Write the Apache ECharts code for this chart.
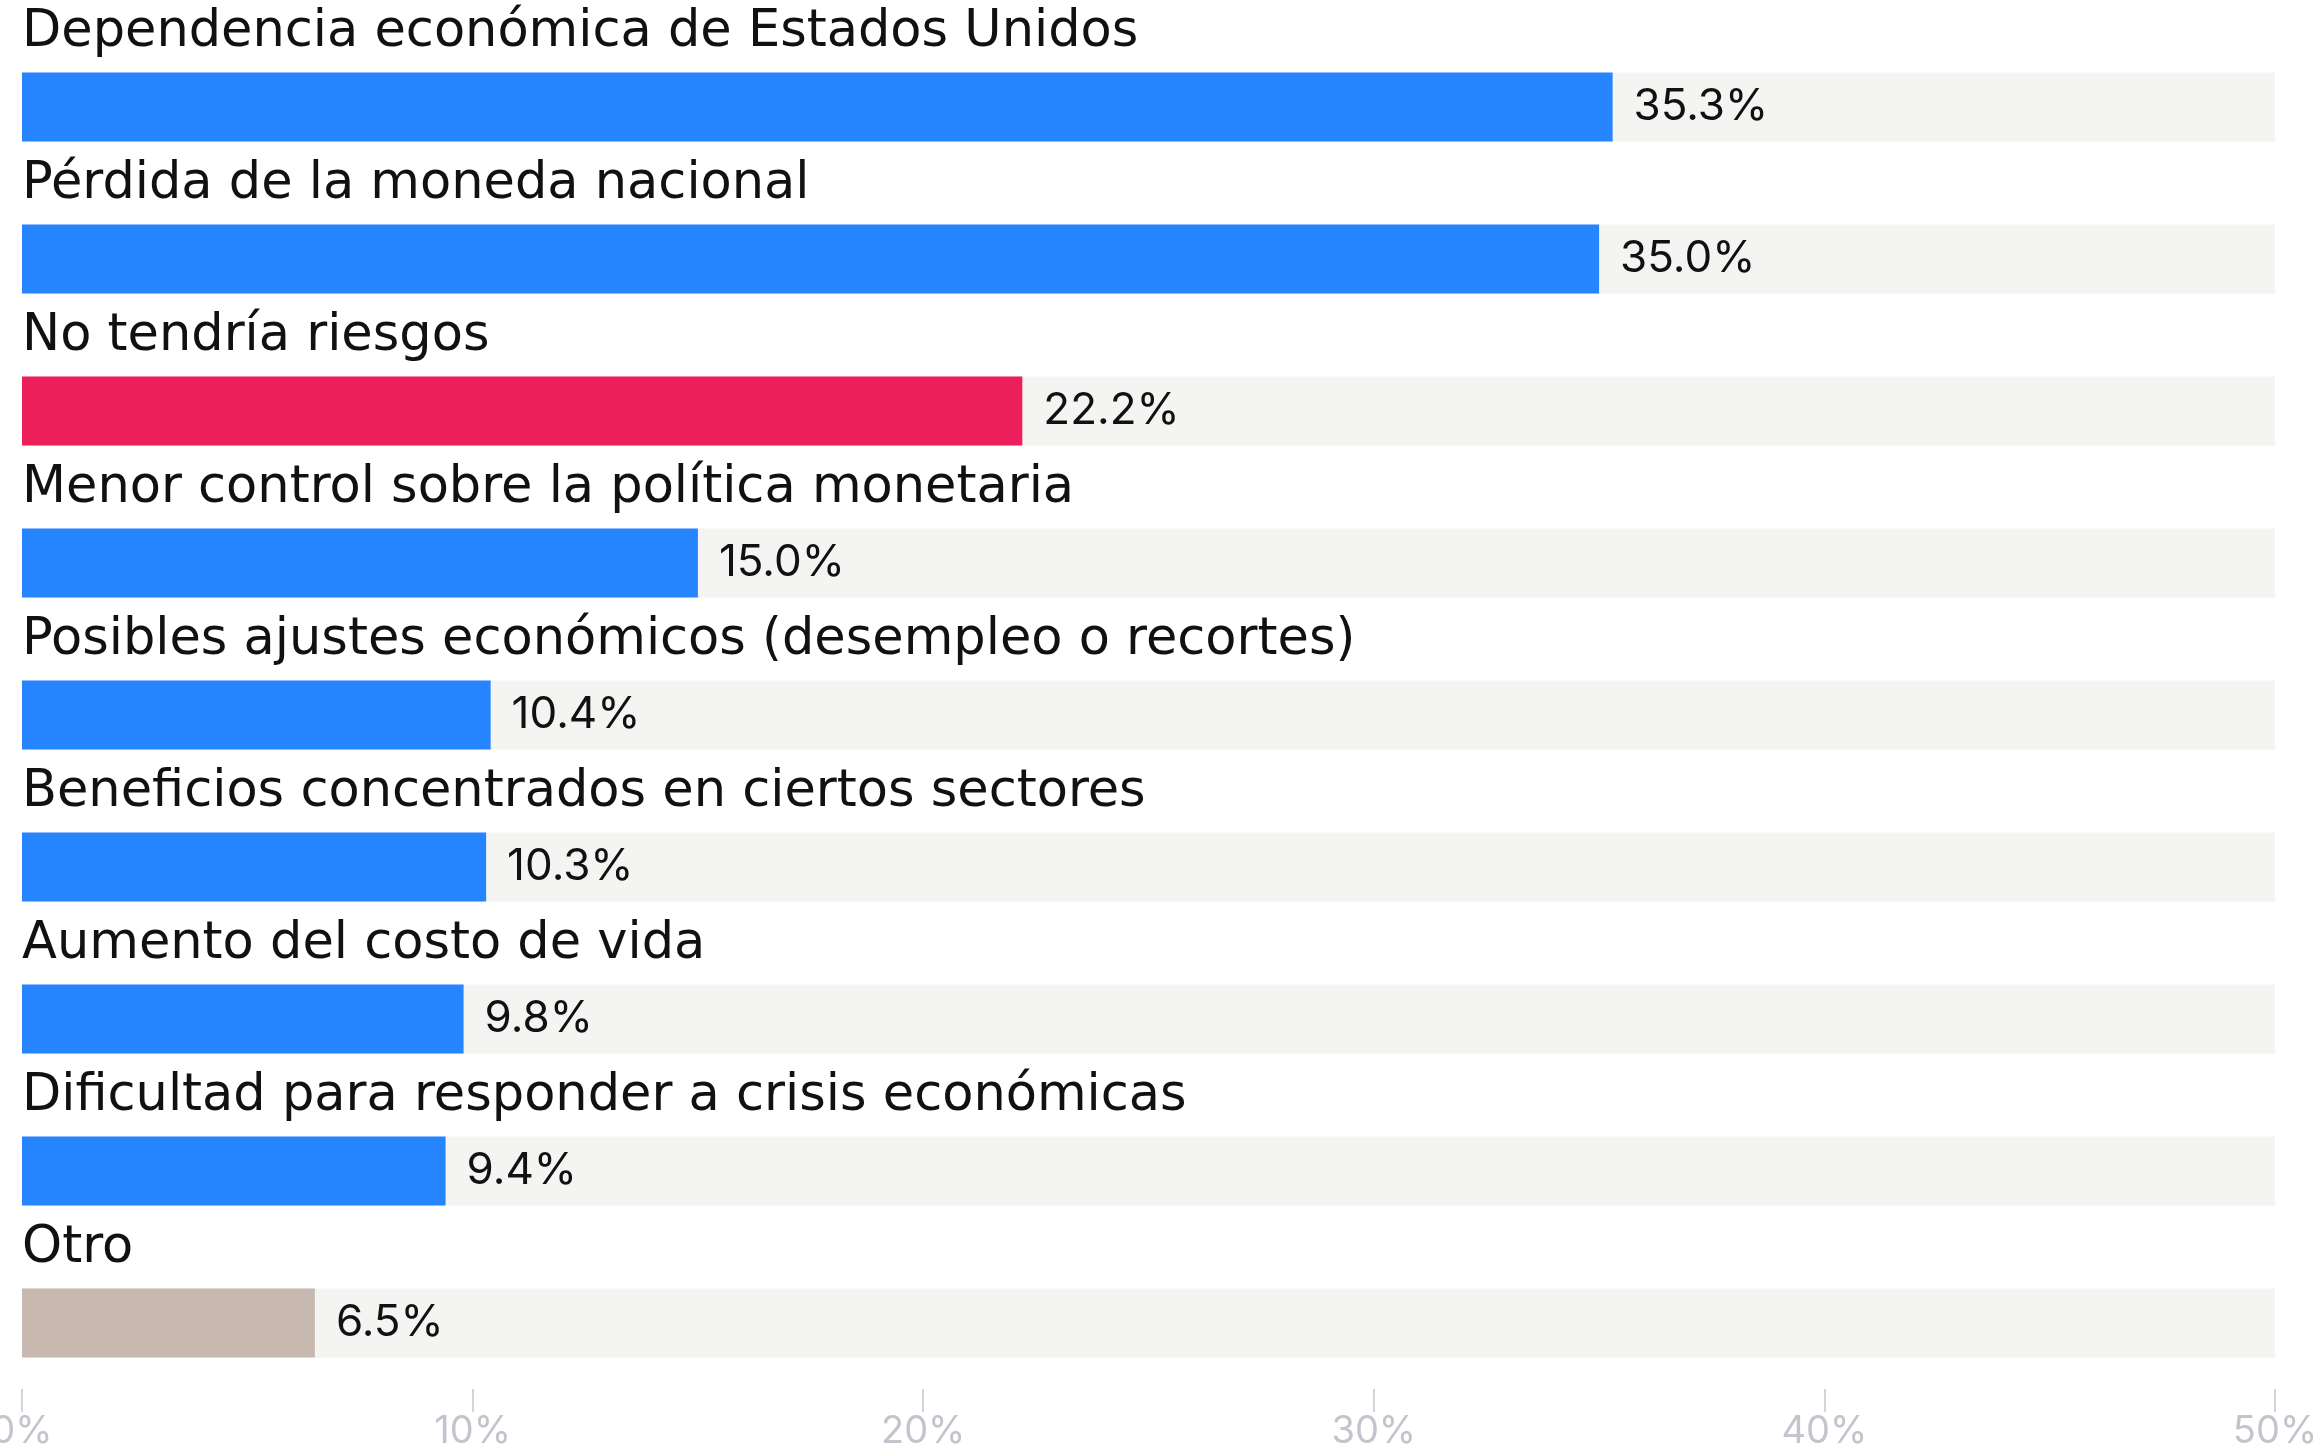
<!DOCTYPE html>
<html>
<head>
<meta charset="utf-8">
<script src="https://cdn.jsdelivr.net/npm/echarts@6/dist/echarts.min.js"></script>
<style>
  html, body { margin: 0; padding: 0; background: #fff; }
  #chart { width: 2316px; height: 1450px; }
</style>
</head>
<body>
<div id="chart"></div>
<script>
// datos
var categories = [
  'Dependencia económica de Estados Unidos',
  'Pérdida de la moneda nacional',
  'No tendría riesgos',
  'Menor control sobre la política monetaria',
  'Posibles ajustes económicos (desempleo o recortes)',
  'Beneficios concentrados en ciertos sectores',
  'Aumento del costo de vida',
  'Dificultad para responder a crisis económicas',
  'Otro'
];
var values = [35.3, 35.0, 22.2, 15.0, 10.4, 10.3, 9.8, 9.4, 6.5];
var xTicks = [0, 10, 20, 30, 40, 50];

// colores por barra
var barColors = ['#2684ff', '#2684ff', '#ec1f5b', '#2684ff', '#2684ff', '#2684ff', '#2684ff', '#2684ff', '#c7b9b0'];

var chart = echarts.init(document.getElementById('chart'));
var font = 'Inter, "Noto Sans", sans-serif';

var option = {
  backgroundColor: '#ffffff',
  animation: false,
  grid: { left: 22, right: 41, top: 31, bottom: 51, containLabel: false, outerBoundsMode: 'none' },
  xAxis: {
    type: 'value',
    min: xTicks[0],
    max: xTicks[xTicks.length - 1],
    interval: 10,
    offset: -10,
    axisLine: { show: false },
    axisTick: { show: true, length: 23, lineStyle: { color: '#d3d4da', width: 2 } },
    splitLine: { show: false },
    axisLabel: {
      formatter: '{value}%',
      color: '#c3c5cd',
      fontFamily: font,
      fontSize: 38,
      margin: 24
    }
  },
  yAxis: {
    type: 'category',
    inverse: true,
    data: categories,
    axisLine: { show: false },
    axisTick: { show: false },
    axisLabel: {
      show: true,
      interval: 0,
      inside: true,
      margin: 0,
      color: '#111111',
      fontFamily: '"DejaVu Sans", sans-serif',
      fontSize: 51,
      verticalAlign: 'bottom',
      padding: [0, 0, 49, 0]
    },
    z: 10
  },
  series: [{
    type: 'bar',
    data: values.map(function (v, i) {
      return { value: v, itemStyle: { color: barColors[i] } };
    }),
    barWidth: 69,
    showBackground: true,
    backgroundStyle: { color: '#f4f4f2' },
    label: {
      show: true,
      position: 'right',
      distance: 21,
      color: '#111111',
      fontFamily: font,
      fontSize: 44,
      formatter: function (p) { return p.value.toFixed(1) + '%'; }
    }
  }]
};
chart.setOption(option);
</script>
</body>
</html>
